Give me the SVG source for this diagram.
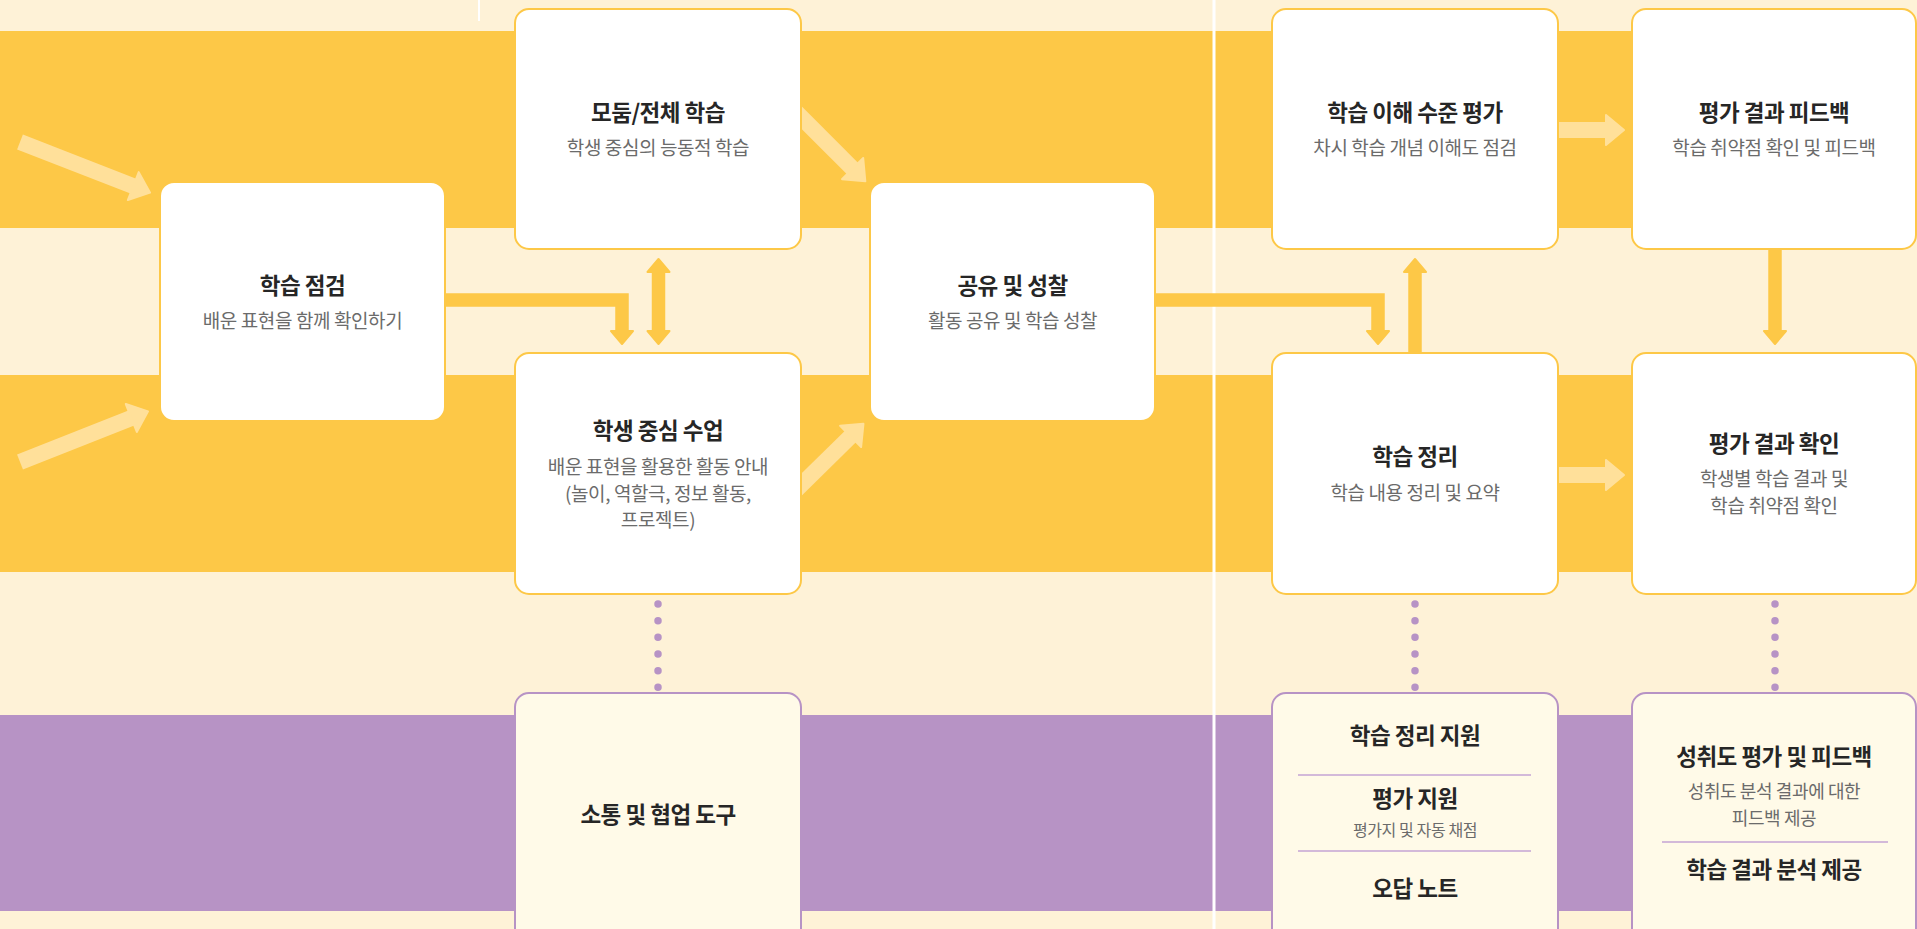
<svg xmlns="http://www.w3.org/2000/svg" width="1917" height="929" viewBox="0 0 1917 929">
<defs>
<style>
.bg{fill:#FEF2D7}
.yb{fill:#FDC847}
.pb{fill:#B793C5}
.box{fill:#FFFFFF;stroke:#FDC847;stroke-width:2}
.pbox{fill:#FFFAE8;stroke:#B793C5;stroke-width:2}
.t{font-family:"Noto Sans CJK KR","Noto Sans",sans-serif;font-weight:700;font-size:22.5px;fill:#262626;text-anchor:middle;letter-spacing:-0.5px}
.s{font-family:"Noto Sans CJK KR","Noto Sans",sans-serif;font-weight:400;font-size:19px;fill:#6B6B6B;text-anchor:middle;letter-spacing:-0.4px}
.ss{font-size:16px}
.sm{font-size:18px}
.sep{stroke:#C4A3D4;stroke-width:1.5}
.con{fill:none;stroke:#FDC847;stroke-width:13.5}
.lt{fill:none;stroke:#FFE09A;stroke-width:16}
.dots{fill:none;stroke:#B793C5;stroke-width:7.5;stroke-linecap:round;stroke-dasharray:0 16.67}
</style>
<marker id="hs" viewBox="-2 -14 18 28" markerWidth="18" markerHeight="28" refX="0" refY="0" orient="auto-start-reverse" markerUnits="userSpaceOnUse">
<path d="M0,-11 L13,0 L0,11 Z" fill="#FDC847" stroke="#FDC847" stroke-width="2" stroke-linejoin="round"/>
</marker>
<marker id="hl" viewBox="-2 -18 22 36" markerWidth="22" markerHeight="36" refX="0" refY="0" orient="auto" markerUnits="userSpaceOnUse">
<path d="M0,-15 L18,0 L0,15 Z" fill="#FFE09A" stroke="#FFE09A" stroke-width="2" stroke-linejoin="round"/>
</marker>
</defs>

<g id="background">
<rect class="bg" x="0" y="0" width="1917" height="929"/>
<rect class="yb" x="0" y="31" width="1917" height="197"/>
<rect class="yb" x="0" y="375" width="1917" height="197"/>
<rect class="pb" x="0" y="715" width="1917" height="196"/>
<line x1="479" y1="0" x2="479" y2="21" stroke="#FFFFFF" stroke-width="2"/>
<line x1="1214" y1="0" x2="1214" y2="929" stroke="#FFFFFF" stroke-width="3"/>
</g>

<g id="connectors">
<line class="lt" x1="20" y1="142" x2="133.3" y2="186.1" marker-end="url(#hl)"/>
<line class="lt" x1="20" y1="462" x2="131.3" y2="418" marker-end="url(#hl)"/>
<line class="lt" x1="795" y1="111" x2="852.6" y2="168.6" marker-end="url(#hl)"/>
<line class="lt" x1="795" y1="491" x2="850.6" y2="436.4" marker-end="url(#hl)"/>
<line class="lt" x1="1558" y1="130" x2="1606" y2="130" marker-end="url(#hl)"/>
<line class="lt" x1="1558" y1="475" x2="1606" y2="475" marker-end="url(#hl)"/>
<path class="con" d="M445,300 H622 V331" marker-end="url(#hs)"/>
<path class="con" d="M658.5,272 V331" marker-start="url(#hs)" marker-end="url(#hs)"/>
<path class="con" d="M1155,300 H1378 V331" marker-end="url(#hs)"/>
<path class="con" d="M1415,353 V272" marker-end="url(#hs)"/>
<path class="con" d="M1775,249 V331" marker-end="url(#hs)"/>
<line class="dots" x1="658" y1="604" x2="658" y2="688"/>
<line class="dots" x1="1415" y1="604" x2="1415" y2="688"/>
<line class="dots" x1="1775" y1="604" x2="1775" y2="688"/>
</g>

<g id="n-check">
<rect class="box" x="160" y="182" width="285" height="239" rx="14"/>
<text class="t" x="302.5" y="294">학습 점검</text>
<text class="s" x="302.5" y="328">배운 표현을 함께 확인하기</text>
</g>

<g id="n-group">
<rect class="box" x="515" y="9" width="286" height="240" rx="14"/>
<text class="t" x="658" y="121">모둠/전체 학습</text>
<text class="s" x="658" y="155">학생 중심의 능동적 학습</text>
</g>

<g id="n-student">
<rect class="box" x="515" y="353" width="286" height="241" rx="14"/>
<text class="t" x="658" y="439">학생 중심 수업</text>
<text class="s" x="658" y="474">배운 표현을 활용한 활동 안내</text>
<text class="s" x="658" y="500.5">(놀이, 역할극, 정보 활동,</text>
<text class="s" x="658" y="527">프로젝트)</text>
</g>

<g id="n-share">
<rect class="box" x="870" y="182" width="285" height="239" rx="14"/>
<text class="t" x="1012.5" y="294">공유 및 성찰</text>
<text class="s" x="1012.5" y="328">활동 공유 및 학습 성찰</text>
</g>

<g id="n-eval">
<rect class="box" x="1272" y="9" width="286" height="240" rx="14"/>
<text class="t" x="1415" y="121">학습 이해 수준 평가</text>
<text class="s" x="1415" y="155">차시 학습 개념 이해도 점검</text>
</g>

<g id="n-feedback">
<rect class="box" x="1632" y="9" width="284" height="240" rx="14"/>
<text class="t" x="1774" y="121">평가 결과 피드백</text>
<text class="s" x="1774" y="155">학습 취약점 확인 및 피드백</text>
</g>

<g id="n-summary">
<rect class="box" x="1272" y="353" width="286" height="241" rx="14"/>
<text class="t" x="1415" y="465">학습 정리</text>
<text class="s" x="1415" y="500">학습 내용 정리 및 요약</text>
</g>

<g id="n-result">
<rect class="box" x="1632" y="353" width="284" height="241" rx="14"/>
<text class="t" x="1774" y="452">평가 결과 확인</text>
<text class="s" x="1774" y="486">학생별 학습 결과 및</text>
<text class="s" x="1774" y="513">학습 취약점 확인</text>
</g>

<g id="n-tools">
<rect class="pbox" x="515" y="693" width="286" height="260" rx="14"/>
<text class="t" x="658" y="823">소통 및 협업 도구</text>
</g>

<g id="n-support">
<rect class="pbox" x="1272" y="693" width="286" height="260" rx="14"/>
<text class="t" x="1415" y="744">학습 정리 지원</text>
<line class="sep" x1="1298" y1="775" x2="1531" y2="775"/>
<text class="t" x="1415" y="807">평가 지원</text>
<text class="s ss" x="1415" y="836">평가지 및 자동 채점</text>
<line class="sep" x1="1298" y1="851" x2="1531" y2="851"/>
<text class="t" x="1415" y="897">오답 노트</text>
</g>

<g id="n-achieve">
<rect class="pbox" x="1632" y="693" width="284" height="260" rx="14"/>
<text class="t" x="1774" y="765">성취도 평가 및 피드백</text>
<text class="s sm" x="1774" y="798">성취도 분석 결과에 대한</text>
<text class="s sm" x="1774" y="825">피드백 제공</text>
<line class="sep" x1="1662" y1="842" x2="1888" y2="842"/>
<text class="t" x="1774" y="878">학습 결과 분석 제공</text>
</g>
</svg>
